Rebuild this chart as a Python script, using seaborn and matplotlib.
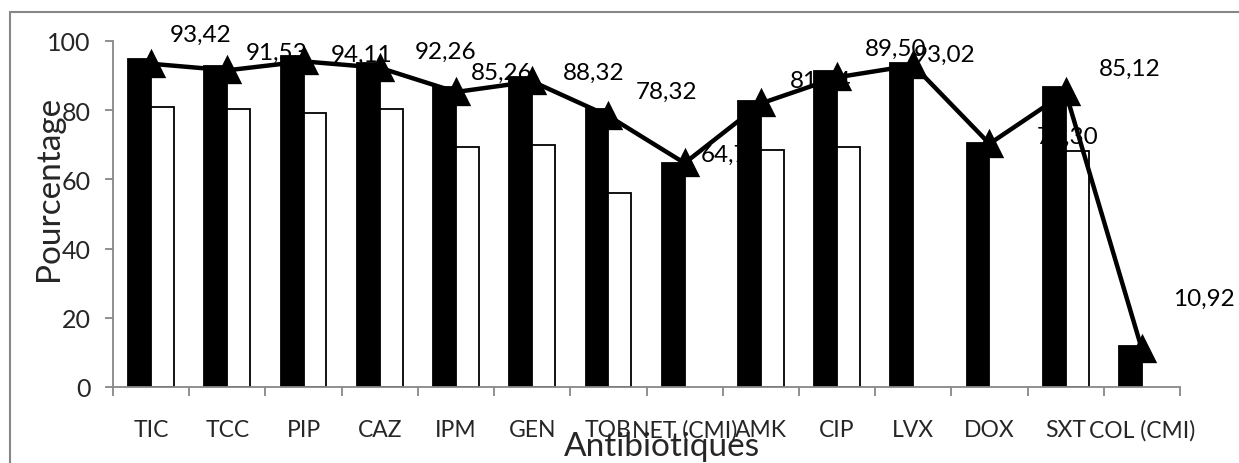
import numpy as np
import pandas as pd
import matplotlib
matplotlib.use("Agg")
import matplotlib.pyplot as plt
from matplotlib.lines import Line2D
import seaborn as sns

# Antibiotics tested
categories = ["TIC", "TCC", "PIP", "CAZ", "IPM", "GEN", "TOB", "NET (CMI)",
              "AMK", "CIP", "LVX", "DOX", "SXT", "COL (CMI)"]

# Bar series (black and white), percentages
serie_noire = [94.8, 92.9, 95.6, 93.5, 86.6, 89.5, 80.3, 64.7, 82.8, 91.2, 93.6, 70.5, 86.6, 11.9]
serie_blanche = [80.8, 80.3, 79.1, 80.4, 69.3, 69.9, 56.1, np.nan, 68.6, 69.3, np.nan, np.nan, 68.3, np.nan]

# Line series with its labelled values
serie_ligne = [93.42, 91.53, 94.11, 92.26, 85.26, 88.32, 78.32, 64.71, 81.94, 89.50, 93.02, 70.30, 85.12, 10.92]

y_ticks = [0, 20, 40, 60, 80, 100]

# Label offsets (pixels) relative to each line point
label_dx = [50, 49, 58, 66, 46, 62, 58, 47, 60, 59, 31, 78, 64, 62]
label_dy = [29, 18, 7, 16, 20, 9, 25, 9, 23, 29, 11, 7, 24, 51]

sns.set_style("white")
plt.rcParams["font.family"] = ["Lato", "DejaVu Sans"]

W, H = 1239, 464
fig = plt.figure(figsize=(W / 100, H / 100), dpi=100)
ax = fig.add_axes([113 / W, 1 - 388 / H, (1180 - 113) / W, (388 - 42) / H])

bars = pd.DataFrame({
    "antibiotique": categories * 2,
    "valeur": serie_noire + serie_blanche,
    "serie": ["noire"] * len(categories) + ["blanche"] * len(categories),
}).dropna()

sns.barplot(data=bars, x="antibiotique", y="valeur", hue="serie",
            order=categories, hue_order=["noire", "blanche"],
            palette={"noire": "black", "blanche": "white"},
            edgecolor="black", linewidth=1.3, width=0.6,
            errorbar=None, legend=False, ax=ax)
for p in ax.patches:
    p.set_zorder(2)

ligne = pd.DataFrame({"antibiotique": categories, "valeur": serie_ligne})
sns.pointplot(data=ligne, x="antibiotique", y="valeur", order=categories,
              color="black", markers="^", linestyles="-",
              markersize=17, linewidth=3.2, errorbar=None, ax=ax)
for ln in ax.lines:
    ln.set_zorder(3)
for coll in ax.collections:
    coll.set_zorder(3)

for i, v in enumerate(serie_ligne):
    ax.annotate(f"{v:.2f}".replace(".", ","), xy=(i, v),
                xytext=(label_dx[i], label_dy[i]), textcoords="offset pixels",
                ha="center", va="center", fontsize=17.5, color="black",
                zorder=1, annotation_clip=False)

grey = "#878787"
ax.set_xlim(-0.5, len(categories) - 0.5)
ax.set_ylim(0, 100)
ax.set_yticks(y_ticks)
ax.set_xticks(range(len(categories)))
ax.set_xticklabels(categories)
ax.set_xticks(np.arange(-0.5, len(categories), 1), minor=True)
ax.tick_params(axis="y", which="major", direction="out", length=6, width=1.3,
               color=grey, labelsize=18, pad=10, left=True)
ax.tick_params(axis="x", which="major", length=0, labelsize=16.5, pad=23)
ax.tick_params(axis="x", which="minor", direction="out", length=6.5, width=1.3,
               color=grey, bottom=True)
for side in ("top", "right"):
    ax.spines[side].set_visible(False)
for side in ("left", "bottom"):
    ax.spines[side].set_color(grey)
    ax.spines[side].set_linewidth(1.3)
ax.set_xlabel("")
ax.set_ylabel("")

fig.text(49 / W, 1 - 188 / H, "Pourcentage", rotation=90, ha="center",
         va="center", fontsize=24)
fig.text(662 / W, 1 - 447 / H, "Antibiotiques", ha="center", va="center",
         fontsize=24)

# Chart-area frame
fig.add_artist(Line2D([10 / W, 10 / W], [0, 1 - 13 / H], color=grey, lw=1.5,
                      transform=fig.transFigure))
fig.add_artist(Line2D([10 / W, 1], [1 - 13 / H, 1 - 13 / H], color=grey, lw=1.5,
                      transform=fig.transFigure))

fig.savefig("out.png", dpi=100)
